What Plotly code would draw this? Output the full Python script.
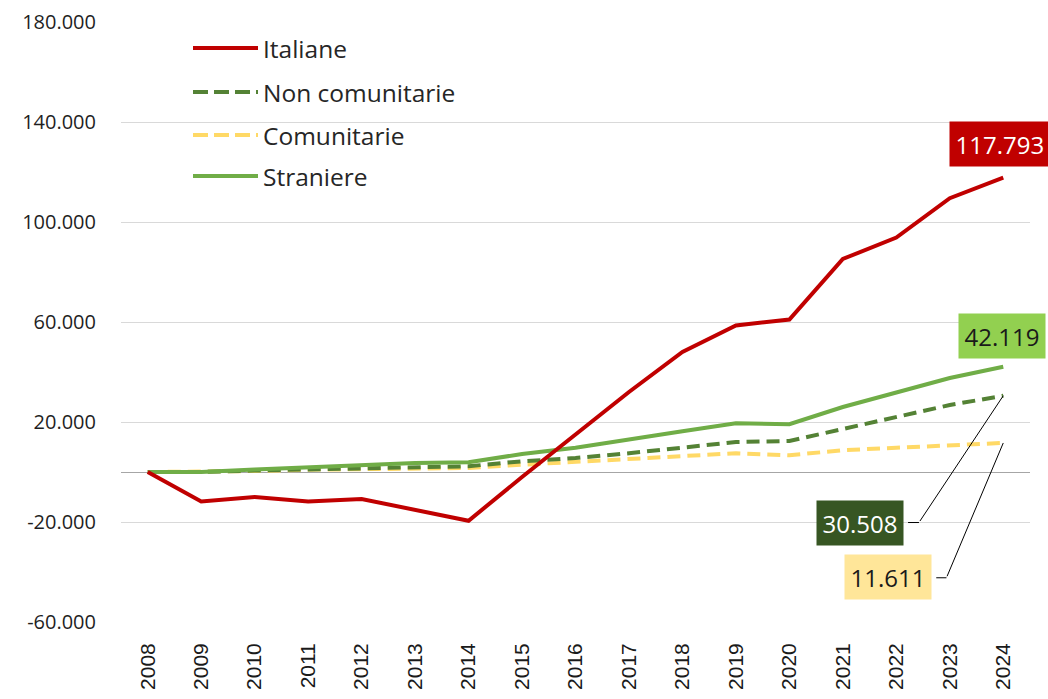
import plotly.graph_objects as go

years = [str(y) for y in range(2008, 2025)]
italiane = [0, -11800, -10000, -11800, -10800, -15200, -19500, -2000, 15000, 32000,
            48000, 58600, 61000, 85200, 93800, 109500, 117793]
non_comunitarie = [0, 0, 600, 1100, 1600, 2100, 2300, 4300, 5600, 7500,
                   9900, 12000, 12400, 17300, 22300, 26800, 30508]
comunitarie = [0, 0, 400, 900, 1200, 1500, 1600, 2900, 4100, 5300,
               6400, 7500, 6700, 8700, 9700, 10800, 11611]
straniere = [0, 0, 1000, 2000, 2800, 3600, 3900, 7200, 9700, 12800,
             16300, 19500, 19100, 26000, 32000, 37600, 42119]

y_tickvals = [-60000, -20000, 20000, 60000, 100000, 140000, 180000]
y_ticktext = ["-60.000", "-20.000", "20.000", "60.000", "100.000", "140.000", "180.000"]

C_IT = "#C00000"
C_NC = "#548235"
C_CO = "#FFD966"
C_ST = "#70AD47"

W, H = 1048, 699
L, R, T, B = 121, 18, 22, 77
PW, PH = W - L - R, H - T - B

def px(xp):
    return (xp - L) / PW

def py(yp):
    return (H - B - yp) / PH

def fmt(v):
    return f"{v:,}".replace(",", ".")

fig = go.Figure()
fig.add_trace(go.Scatter(x=years, y=comunitarie, mode="lines", name="Comunitarie",
                         line=dict(color=C_CO, width=4, dash="13px,7px")))
fig.add_trace(go.Scatter(x=years, y=non_comunitarie, mode="lines", name="Non comunitarie",
                         line=dict(color=C_NC, width=4, dash="13px,7px")))
fig.add_trace(go.Scatter(x=years, y=straniere, mode="lines", name="Straniere",
                         line=dict(color=C_ST, width=4)))
fig.add_trace(go.Scatter(x=years, y=italiane, mode="lines", name="Italiane",
                         line=dict(color=C_IT, width=4)))

# manual legend
legend_items = [("Italiane", C_IT, "solid", 48),
                ("Non comunitarie", C_NC, "15px,6px", 92),
                ("Comunitarie", C_CO, "15px,6px", 135),
                ("Straniere", C_ST, "solid", 176)]
shapes = []
annotations = []
for name, col, dash, yy in legend_items:
    shapes.append(dict(type="line", xref="paper", yref="paper",
                       x0=px(193), x1=px(258), y0=py(yy), y1=py(yy),
                       line=dict(color=col, width=4, dash=dash)))
    annotations.append(dict(xref="paper", yref="paper", x=px(261), y=py(yy),
                            text=name, showarrow=False, xanchor="left", yanchor="middle",
                            font=dict(family="Open Sans", size=24.5, color="#262626")))

last = len(years) - 1  # category index of the last year
lab_font = "Open Sans"
labels = [
    (italiane[last], C_IT, "white", -3.5, 33.5),
    (straniere[last], "#92D050", "#1a1a1a", -1.3, 30.7),
    (non_comunitarie[last], "#375623", "white", -143.3, -127.3),
    (comunitarie[last], "#FFE699", "#1a1a1a", -115.0, -134.5),
]
for val, bg, fc, xs, ys in labels:
    annotations.append(dict(x=last, y=val, xref="x", yref="y", text=fmt(val),
                            showarrow=False, xshift=xs, yshift=ys, bgcolor=bg,
                            borderpad=5.5, xanchor="center", yanchor="middle",
                            font=dict(family=lab_font, size=24, color=fc)))

# leader lines
for yv, ax1, ay1, ax2 in [(non_comunitarie[last], -84.3, 126.8, -12.4),
                          (comunitarie[last], -56.8, 134.8, -11.7)]:
    annotations.append(dict(x=last, y=yv, xref="x", yref="y", text="",
                            showarrow=True, arrowhead=0,
                            arrowwidth=1, arrowcolor="#000000", ax=ax1, ay=ay1))
    annotations.append(dict(x=last, y=yv, xref="x", yref="y", text="",
                            showarrow=True, arrowhead=0,
                            arrowwidth=1, arrowcolor="#000000", ax=ax2, ay=0,
                            xshift=ax1, yshift=-ay1))

fig.update_layout(
    width=W, height=H,
    margin=dict(l=L, r=R, t=T, b=B, pad=0, autoexpand=False),
    paper_bgcolor="white", plot_bgcolor="white",
    showlegend=False,
    shapes=shapes,
    annotations=annotations,
    xaxis=dict(type="category", range=[-0.5, len(years) - 0.5], showgrid=False,
               tickangle=-90, ticks="", showline=False, zeroline=False, automargin=False,
               tickfont=dict(family="Liberation Sans", size=21, color="#1a1a1a"),
               ticklabelstandoff=16),
    yaxis=dict(range=[-60000, 180000], tickvals=y_tickvals, ticktext=y_ticktext,
               showgrid=True, gridcolor="#D9D9D9", gridwidth=1, automargin=False,
               zeroline=True, zerolinecolor="#A6A6A6", zerolinewidth=1.3,
               ticks="", showline=False,
               tickfont=dict(family="Open Sans", size=20, color="#1f1f1f"),
               ticklabelstandoff=24),
)

fig.write_html("out.html", config={"displayModeBar": False},
               post_script="document.body.style.margin='0px';")
